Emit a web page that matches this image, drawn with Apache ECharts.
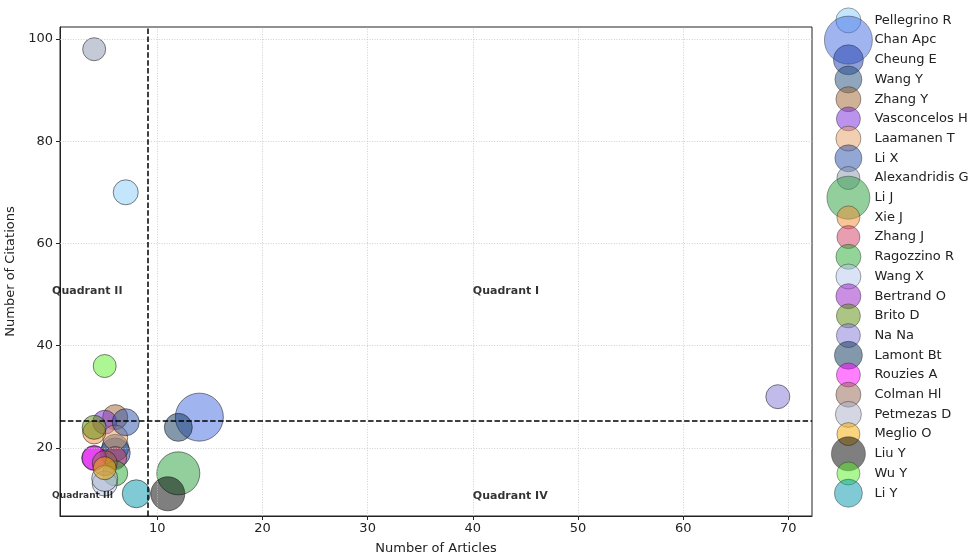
<!DOCTYPE html>
<html><head><meta charset="utf-8">
<script src="https://cdn.jsdelivr.net/npm/echarts@6/dist/echarts.min.js"></script>
<style>html,body{margin:0;padding:0;background:#fff}#c{width:977px;height:557px}</style>
</head><body><div id="c"></div>
<script>
const authors = ['Pellegrino R','Chan Apc','Cheung E','Wang Y','Zhang Y','Vasconcelos H','Laamanen T','Li X','Alexandridis G','Li J','Xie J','Zhang J','Ragozzino R','Wang X','Bertrand O','Brito D','Na Na','Lamont Bt','Rouzies A','Colman Hl','Petmezas D','Meglio O','Liu Y','Wu Y','Li Y'];
const articles  = [7, 14, 6, 6, 6, 5, 6, 7, 4, 12, 4, 6, 6, 5, 4, 4, 69, 12, 4, 5, 5, 5, 11, 5, 8];
const citations = [70, 26, 19, 20, 26, 25, 22, 25, 98, 15, 23, 18, 15, 13, 18, 24, 30, 24, 18, 17, 14, 16, 11, 36, 11];
const bubbleSize = [25, 48, 30, 27, 25, 24, 25, 27, 23, 43, 23, 23, 25, 25, 25, 24, 24, 28, 24, 25, 26, 23, 34, 23, 28];
const baseColors = [
  [135,206,250],[65,105,225],[30,60,170],[31,78,121],[160,100,50],
  [120,40,220],[230,160,100],[40,80,170],[140,150,175],[40,160,60],
  [240,140,50],[210,60,100],[40,170,50],[180,200,235],[150,30,200],
  [90,140,10],[130,120,215],[10,50,90],[255,0,255],[150,100,80],
  [170,175,200],[245,170,0],[0,0,0],[90,240,40],[0,150,170]
];
const xTicks = [10, 20, 30, 40, 50, 60, 70];
const yTicks = [20, 40, 60, 80, 100];
const xRange = [0.75, 72.25];
const yRange = [6.65, 102.35];
const xThreshold = 9.12;
const yThreshold = 25.3;
const quadrantNames = ['Quadrant I', 'Quadrant II', 'Quadrant III', 'Quadrant IV'];
const quadrantX = [40, 0, 0, 40];
const quadrantY = [50, 50, 10, 10];
const quadrantFont = [11, 11, 9, 11];

const chart = echarts.init(document.getElementById('c'), null, {renderer: 'canvas'});

function iconPath(d) {
  const r = d / 2;
  return 'path://M0 0M50 50M' + (25 - r) + ' 25a' + r + ' ' + r + ' 0 1 0 ' + (2 * r) + ' 0a' + r + ' ' + r + ' 0 1 0 ' + (-2 * r) + ' 0Z';
}

const series = authors.map((name, i) => ({
  type: 'scatter',
  name: name,
  data: [[articles[i], citations[i]]],
  symbol: 'circle',
  symbolSize: bubbleSize[i],
  itemStyle: {
    color: 'rgba(' + baseColors[i].join(',') + ',0.5)',
    borderColor: 'rgba(30,30,30,0.55)',
    borderWidth: 1,
    opacity: 1
  },
  emphasis: {disabled: true},
  z: 3
}));

const gridLine = {color: '#c4c4c4', width: 0.8, type: [1, 1.6]};
series.unshift({
  type: 'scatter',
  name: '_grid',
  data: [],
  silent: true,
  z: 1,
  markLine: {
    silent: true, symbol: 'none', animation: false,
    label: {show: false},
    lineStyle: gridLine,
    data: xTicks.map(v => ({xAxis: v})).concat(yTicks.map(v => ({yAxis: v})))
  }
});
series.push({
  type: 'scatter',
  name: '_quad',
  data: quadrantNames.map((n, i) => ({
    value: [quadrantX[i], quadrantY[i]],
    label: {fontSize: quadrantFont[i]}
  })),
  symbolSize: 0,
  clip: false,
  silent: true,
  label: {
    show: true, position: 'inside', align: 'left', verticalAlign: 'middle',
    offset: [0, -3],
    fontFamily: 'DejaVu Sans', fontWeight: 'bold', color: '#000',
    formatter: p => quadrantNames[p.dataIndex]
  },
  markLine: {
    silent: true, symbol: 'none', animation: false,
    label: {show: false},
    lineStyle: {color: '#000', width: 1.5, type: [5.5, 2.4]},
    data: [{xAxis: xThreshold}, {yAxis: yThreshold}]
  },
  z: 6
});

chart.setOption({
  animation: false,
  backgroundColor: '#fff',
  textStyle: {fontFamily: 'DejaVu Sans'},
  grid: {left: 60, top: 27, width: 752, height: 489, show: true, borderColor: '#222', borderWidth: 1, containLabel: false, outerBoundsMode: 'none'},
  legend: {
    orient: 'vertical',
    left: 823, top: -5,
    padding: 0,
    itemWidth: 50, itemHeight: 50, itemGap: -31.1,
    data: authors.map((n, i) => ({name: n, icon: iconPath(bubbleSize[i])})),
    itemStyle: {borderWidth: 0.8, borderColor: 'rgba(30,30,30,0.5)'},
    textStyle: {fontSize: 13, color: '#222', fontFamily: 'DejaVu Sans', padding: [0, 0, 0, -4]},
    selectedMode: false
  },
  xAxis: {
    type: 'value', min: xRange[0], max: xRange[1],
    name: 'Number of Articles', nameLocation: 'middle', nameGap: 26,
    nameTextStyle: {fontSize: 13, color: '#222'},
    axisLine: {show: true, onZero: false, lineStyle: {color: '#222', width: 1}},
    axisTick: {show: true, inside: false, length: 4, customValues: xTicks, lineStyle: {color: '#222'}},
    axisLabel: {fontSize: 13, color: '#222', margin: 6, customValues: xTicks},
    splitLine: {show: false}
  },
  yAxis: {
    type: 'value', min: yRange[0], max: yRange[1],
    name: 'Number of Citations', nameLocation: 'middle', nameGap: 34,
    nameTextStyle: {fontSize: 13, color: '#222'},
    axisLine: {show: true, onZero: false, lineStyle: {color: '#222', width: 1}},
    axisTick: {show: true, inside: false, length: 4, customValues: yTicks, lineStyle: {color: '#222'}},
    axisLabel: {fontSize: 13, color: '#222', margin: 7, customValues: yTicks},
    splitLine: {show: false}
  },
  series: series
});
</script>
</body></html>
